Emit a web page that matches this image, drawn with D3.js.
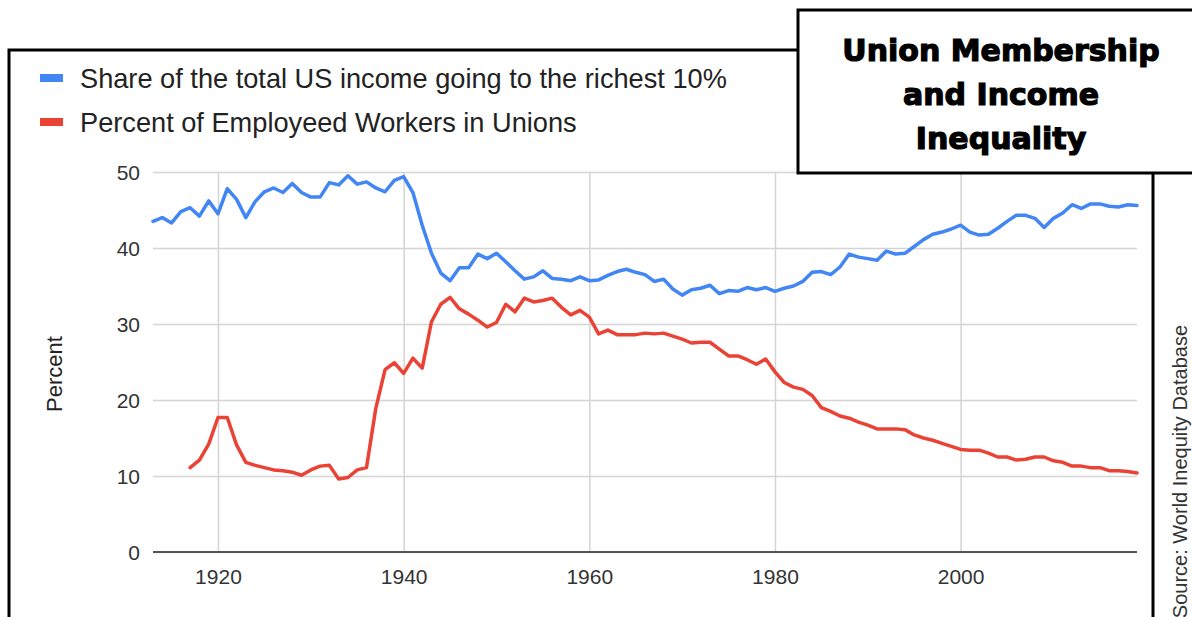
<!DOCTYPE html>
<html>
<head>
<meta charset="utf-8">
<script src="https://cdn.jsdelivr.net/npm/d3@7"></script>
<style>
  html, body { margin: 0; padding: 0; background: #fff; overflow: hidden; }
  svg { display: block; font-family: "Liberation Sans", Arial, sans-serif; }
  .grid line { stroke: #d4d4d4; stroke-width: 1.5; }
  .grid path { display: none; }
  .tick text { fill: #333; font-size: 21px; }
</style>
</head>
<body>
<div id="chart"></div>
<script>
const incomeStartYear = 1913;
const unionStartYear = 1917;

// share of total US income going to the richest 10%, 1913-2019
const incomeShare = [
  43.5, 44.0, 43.3, 44.8, 45.3, 44.2, 46.2, 44.5, 47.8, 46.4,
  44.0, 46.1, 47.4, 47.9, 47.3, 48.5, 47.3, 46.7, 46.7, 48.6,
  48.3, 49.5, 48.4, 48.7, 47.9, 47.4, 48.9, 49.4, 47.3, 43.0,
  39.3, 36.7, 35.7, 37.4, 37.4, 39.2, 38.6, 39.3, 38.2, 37.0,
  35.9, 36.2, 37.0, 36.0, 35.9, 35.7, 36.2, 35.7, 35.8, 36.4,
  36.9, 37.2, 36.8, 36.5, 35.6, 35.9, 34.6, 33.8, 34.5, 34.7,
  35.1, 34.0, 34.4, 34.3, 34.8, 34.5, 34.8, 34.3, 34.7, 35.0,
  35.6, 36.8, 36.9, 36.5, 37.5, 39.2, 38.8, 38.6, 38.4, 39.6,
  39.2, 39.3, 40.2, 41.1, 41.8, 42.1, 42.5, 43.0, 42.1, 41.7,
  41.8, 42.6, 43.5, 44.3, 44.3, 43.9, 42.7, 43.9, 44.6, 45.7,
  45.2, 45.8, 45.8, 45.5, 45.4, 45.7, 45.6
];

// percent of employed workers in unions, 1917-2019
const unionShare = [
  11.1, 12.1, 14.2, 17.7, 17.7, 14.1, 11.8, 11.4, 11.1, 10.8,
  10.7, 10.5, 10.1, 10.8, 11.3, 11.4, 9.6, 9.8, 10.8, 11.1,
  18.9, 24.0, 24.9, 23.5, 25.5, 24.2, 30.3, 32.6, 33.5, 32.0,
  31.3, 30.5, 29.6, 30.2, 32.6, 31.6, 33.4, 32.9, 33.1, 33.4,
  32.2, 31.2, 31.8, 30.9, 28.7, 29.2, 28.6, 28.6, 28.6, 28.8,
  28.7, 28.8, 28.4, 28.0, 27.5, 27.6, 27.6, 26.7, 25.8, 25.8,
  25.3, 24.7, 25.4, 23.7, 22.3, 21.7, 21.4, 20.6, 19.0, 18.5,
  17.9, 17.6, 17.1, 16.7, 16.2, 16.2, 16.2, 16.1, 15.4, 15.0,
  14.7, 14.3, 13.9, 13.5, 13.4, 13.4, 13.0, 12.5, 12.5, 12.1,
  12.2, 12.5, 12.5, 12.0, 11.8, 11.3, 11.3, 11.1, 11.1, 10.7,
  10.7, 10.6, 10.4
];

const yTicks = [0, 10, 20, 30, 40, 50];
const xTicks = [1920, 1940, 1960, 1980, 2000];

const seriesNames = [
  "Share of the total US income going to the richest 10%",
  "Percent of Employeed Workers in Unions"
];
const seriesColors = ["#4285f4", "#ea4335"];
const titleLines = ["Union Membership", "and Income", "Inequality"];
const yLabel = "Percent";
const sourceText = "Source: World Inequity Database";

const W = 1192, H = 617;
const margin = { top: 172, right: 55, bottom: 65, left: 153 };
const width = W - margin.left - margin.right,
  height = H - margin.top - margin.bottom;

const series = [
  incomeShare.map((v, i) => ({ year: incomeStartYear + i, value: v })),
  unionShare.map((v, i) => ({ year: unionStartYear + i, value: v }))
];

const x = d3.scaleLinear().domain([1913, 2019]).range([0, width]);
const y = d3.scaleLinear().domain([0, 50]).range([height, 0]);

const root = d3
  .select("#chart")
  .append("svg")
  .attr("width", W)
  .attr("height", H);

// outer frame
root
  .append("rect")
  .attr("x", 9)
  .attr("y", 50)
  .attr("width", 1144)
  .attr("height", 620)
  .attr("fill", "#fff")
  .attr("stroke", "#000")
  .attr("stroke-width", 3);

const svg = root
  .append("g")
  .attr("transform", `translate(${margin.left},${margin.top})`);

svg
  .append("g")
  .attr("class", "grid")
  .call(d3.axisLeft(y).tickValues(yTicks).tickSize(-width).tickPadding(13))
  .selectAll(".tick text")
  .attr("dy", "0.35em");

svg
  .append("g")
  .attr("class", "grid")
  .attr("transform", `translate(0,${height})`)
  .call(
    d3
      .axisBottom(x)
      .tickValues(xTicks)
      .tickFormat(d3.format("d"))
      .tickSize(-height)
      .tickPadding(17)
  );

// baseline
svg
  .append("line")
  .attr("x1", 0)
  .attr("x2", width)
  .attr("y1", y(0))
  .attr("y2", y(0))
  .attr("stroke", "#555")
  .attr("stroke-width", 2);

const line = d3
  .line()
  .x((d) => x(d.year))
  .y((d) => y(d.value));

svg
  .selectAll(".series")
  .data(series)
  .enter()
  .append("path")
  .attr("class", "series")
  .attr("d", line)
  .attr("fill", "none")
  .attr("stroke", (d, i) => seriesColors[i])
  .attr("stroke-width", 3.5)
  .attr("stroke-linejoin", "round")
  .attr("stroke-linecap", "round");

// y axis title
root
  .append("text")
  .attr("transform", "translate(62,374) rotate(-90)")
  .attr("text-anchor", "middle")
  .attr("fill", "#222")
  .style("font-size", "22px")
  .text(yLabel);

// legend
const legend = root
  .selectAll(".legendItem")
  .data(seriesNames)
  .enter()
  .append("g")
  .attr("class", "legendItem")
  .attr("transform", (d, i) => `translate(40,${78 + i * 44})`);

legend
  .append("rect")
  .attr("x", 0)
  .attr("y", -4)
  .attr("width", 23)
  .attr("height", 8)
  .attr("fill", (d, i) => seriesColors[i]);

legend
  .append("text")
  .attr("x", 40)
  .attr("dy", "0.35em")
  .attr("fill", "#222")
  .style("font-size", "27.2px")
  .text((d) => d);

// title box
root
  .append("rect")
  .attr("x", 798)
  .attr("y", 10)
  .attr("width", 420)
  .attr("height", 163)
  .attr("fill", "#fff")
  .attr("stroke", "#000")
  .attr("stroke-width", 3);

root
  .selectAll(".titleLine")
  .data(titleLines)
  .enter()
  .append("text")
  .attr("class", "titleLine")
  .attr("x", 1001)
  .attr("y", (d, i) => 61 + i * 44)
  .attr("text-anchor", "middle")
  .attr("fill", "#000")
  .attr("stroke", "#000")
  .attr("stroke-width", 1.2)
  .style("font-family", "'DejaVu Sans', sans-serif")
  .style("font-weight", "bold")
  .style("font-size", "30px")
  .text((d) => d);

// source note
root
  .append("text")
  .attr("transform", "translate(1187,325) rotate(-90)")
  .attr("text-anchor", "end")
  .attr("fill", "#333")
  .style("font-size", "20px")
  .text(sourceText);
</script>
</body>
</html>
